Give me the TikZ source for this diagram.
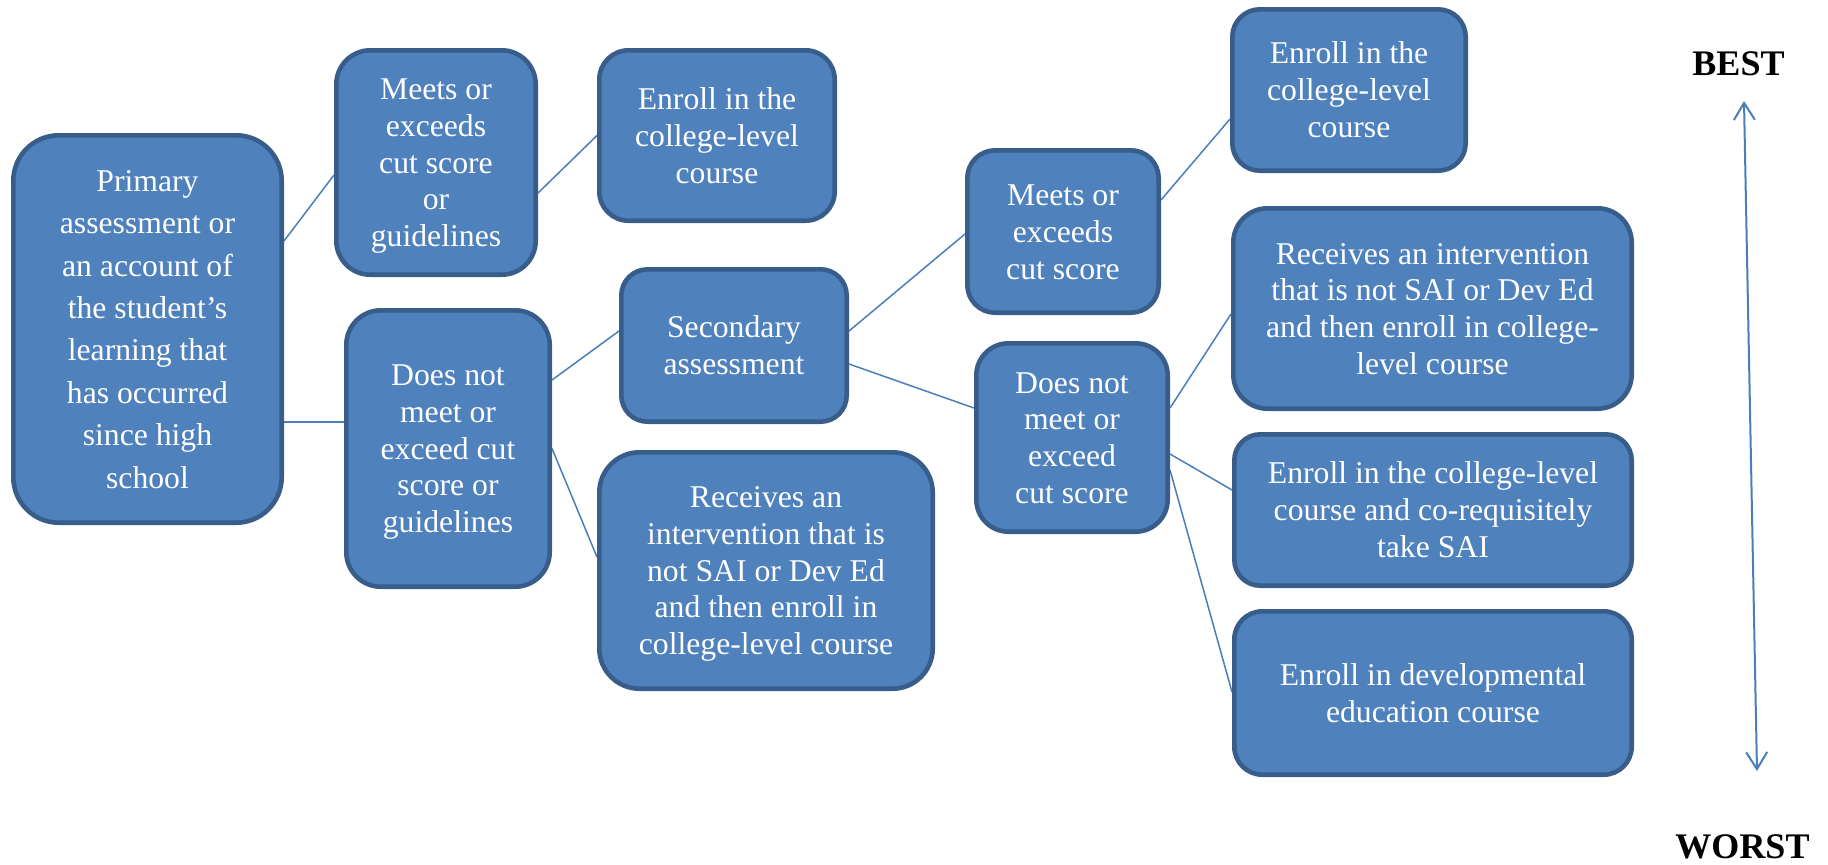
\documentclass[tikz,border=0pt]{standalone}
\usepackage{fontspec}
\setmainfont{Liberation Serif}
\usetikzlibrary{calc,arrows.meta,backgrounds}
\definecolor{boxfill}{HTML}{4F81BD}
\definecolor{boxline}{HTML}{385D8A}
\definecolor{conn}{HTML}{4A7EBB}
\newcommand{\ws}{\rule[-3.4pt]{0pt}{17.5pt}}
\tikzset{
  box/.style={draw=boxline, fill=boxfill, line width=2.3pt, text=white, align=center,
              inner sep=0pt, font=\fontsize{15.85}{18.4}\selectfont},
  link/.style={draw=conn, line width=0.75pt},
  rank/.style={font=\fontsize{18}{20}\selectfont\bfseries, anchor=base, inner sep=0pt},
  scale arrow/.style={draw=conn, line width=1pt,
    {Straight Barb[length=8.5pt,width=10.5pt]}-{Straight Barb[length=8.5pt,width=10.5pt]}}
}
\begin{document}
\begin{tikzpicture}[x=0.5pt,y=-0.5pt]
\useasboundingbox (0,0) rectangle (1828,864);

\node[box, minimum width=134.2pt, minimum height=193.7pt, rounded corners=22.75pt,
      font=\fontsize{15.85}{21.2}\selectfont] (primary) at (147.5,329)
  {\ws Primary\\assessment or\\an account of\\the student’s\\learning that\\has occurred\\since high\\school\ws};
\node[box, minimum width=99.7pt, minimum height=112.2pt, rounded corners=17pt] (meetsA) at (436,162.5)
  {\ws Meets or\\exceeds\\cut score\\or\\guidelines\ws};
\node[box, minimum width=101.7pt, minimum height=138.2pt, rounded corners=17.3pt] (notA) at (448,448.5)
  {\ws Does not\\meet or\\exceed cut\\score or\\guidelines\ws};
\node[box, minimum width=117.7pt, minimum height=85.2pt, rounded corners=14.6pt] (enrollA) at (717,135.5)
  {\ws Enroll in the\\college-level\\course\ws};
\node[box, minimum width=112.7pt, minimum height=76.2pt, rounded corners=13.1pt] (second) at (734,345.5)
  {\ws Secondary\\assessment\ws};
\node[box, minimum width=166.7pt, minimum height=118.2pt, rounded corners=20.1pt] (recvA) at (766,570.5)
  {\ws Receives an\\intervention that is\\not SAI or Dev Ed\\and then enroll in\\college-level course\ws};
\node[box, minimum width=95.7pt, minimum height=81.2pt, rounded corners=13.9pt] (meetsB) at (1063,231.5)
  {\ws Meets or\\exceeds\\cut score\ws};
\node[box, minimum width=95.7pt, minimum height=94.2pt, rounded corners=16.1pt] (notB) at (1072,437.5)
  {\ws Does not\\meet or\\exceed\\cut score\ws};
\node[box, minimum width=116.7pt, minimum height=80.7pt, rounded corners=13.8pt] (enrollB) at (1349,90)
  {\ws Enroll in the\\college-level\\course\ws};
\node[box, minimum width=199.2pt, minimum height=100.2pt, rounded corners=17.1pt] (recvB) at (1432.5,308.5)
  {\ws Receives an intervention\\that is not SAI or Dev Ed\\and then enroll in college-\\level course\ws};
\node[box, minimum width=198.7pt, minimum height=75.7pt, rounded corners=13pt] (coreq) at (1433,510)
  {\ws Enroll in the college-level\\course and co-requisitely\\take SAI\ws};
\node[box, minimum width=198.7pt, minimum height=81.7pt, rounded corners=14pt] (dev) at (1433,693)
  {\ws Enroll in developmental\\education course\ws};

\node[rank] (best) at (1738.5,75) {BEST};
\node[rank] (worst) at (1742.5,858) {WORST};
\coordinate (atop) at (1744,101);
\coordinate (abot) at (1757,771);
\draw[scale arrow] (atop) -- (abot);

\begin{scope}[on background layer]
\draw[link] ($(primary.east)+(0,-88)$) -- ($(meetsA.west)+(0,12.5)$);
\draw[link] ($(primary.east)+(0,93)$) -- ($(notA.west)+(0,-26.5)$);
\draw[link] ($(meetsA.east)+(0,30.5)$) -- (enrollA.west);
\draw[link] ($(notA.east)+(0,-68.5)$) -- ($(second.west)+(0,-14.5)$);
\draw[link] (notA.east) -- ($(recvA.west)+(0,-13.5)$);
\draw[link] ($(second.east)+(0,-14.5)$) -- ($(meetsB.west)+(0,2.5)$);
\draw[link] ($(second.east)+(0,18.5)$) -- ($(notB.west)+(0,-29.5)$);
\draw[link] ($(meetsB.east)+(0,-31.5)$) -- ($(enrollB.west)+(0,29)$);
\draw[link] ($(notB.east)+(0,-29.5)$) -- ($(recvB.west)+(0,5.5)$);
\draw[link] ($(notB.east)+(0,16.5)$) -- ($(coreq.west)+(0,-20)$);
\draw[link] ($(notB.east)+(0,32.5)$) -- ($(dev.west)+(0,-1)$);
\end{scope}
\end{tikzpicture}
\end{document}
